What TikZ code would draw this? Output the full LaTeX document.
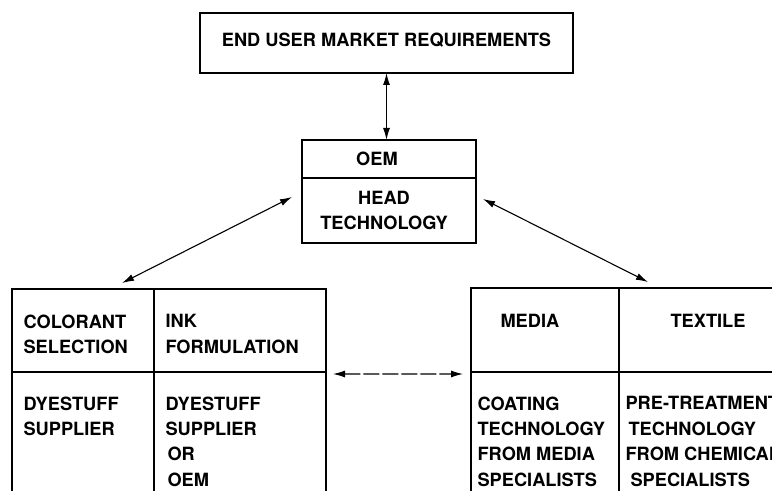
\documentclass[tikz,border=0pt]{standalone}
\usepackage{fontspec}
\setmainfont{TeX Gyre Heros}
\usetikzlibrary{positioning, arrows.meta}

\begin{document}
\begin{tikzpicture}[
    x=1bp, y=-1bp,
    >={Latex[length=12bp, width=7bp]},
    line width=1.1bp,
    font=\bfseries\fontsize{18.3}{25.5}\selectfont,
    cellbox/.style={
        draw,
        line width=2bp,
        inner sep=0pt,
        outer sep=0pt,
        anchor=north west
    },
    celltext/.style={
        align=left,
        inner sep=0pt,
        anchor=north west
    }
]
    \useasboundingbox (0,0) rectangle (772,491);

    \node[cellbox, minimum width=373bp, minimum height=60bp, text depth=6bp] (eur) at (200,13) {END USER MARKET REQUIREMENTS};
    \node[cellbox, minimum width=174bp, minimum height=38bp] (oem) at (302,140) {OEM\hspace*{24bp}};
    \node[cellbox, minimum width=174bp, minimum height=65bp, align=center, below=0pt of oem] (head) {HEAD\hspace*{10bp}\\TECHNOLOGY\hspace*{10bp}};

    \node[cellbox, minimum width=142bp, minimum height=83bp] (colsel) at (12,289) {};
    \node[cellbox, minimum width=172bp, minimum height=83bp, right=0pt of colsel] (ink) {};
    \node[cellbox, minimum width=142bp, minimum height=140bp, below=0pt of colsel] (dyesup) {};
    \node[cellbox, minimum width=172bp, minimum height=140bp, below=0pt of ink] (inksup) {};

    \node[cellbox, minimum width=148bp, minimum height=84bp] (media) at (471,288) {};
    \node[cellbox, minimum width=180bp, minimum height=84bp, right=0pt of media] (textile) {};
    \node[cellbox, minimum width=148bp, minimum height=140bp, below=0pt of media] (coating) {};
    \node[cellbox, minimum width=180bp, minimum height=140bp, below=0pt of textile] (pretreat) {};

    \node[celltext] (colseltxt) at ([shift={(11,25)}]colsel.north west) {COLORANT\\SELECTION};
    \node[celltext] (inktxt) at ([shift={(11,25)}]ink.north west) {INK\\FORMULATION};
    \node[celltext] (dyesuptxt) at ([shift={(11,24)}]dyesup.north west) {DYESTUFF\\SUPPLIER};
    \node[celltext] (inksuptxt) at ([shift={(11,24)}]inksup.north west) {DYESTUFF\\SUPPLIER\\\hspace*{2bp}OR\\\hspace*{2bp}OEM};
    \node[celltext] (mediatxt) at ([shift={(29,26)}]media.north west) {MEDIA};
    \node[celltext] (textiletxt) at ([shift={(51,26)}]textile.north west) {TEXTILE};
    \node[celltext] (coatingtxt) at ([shift={(6,24)}]coating.north west) {COATING\\TECHNOLOGY\\FROM MEDIA\\SPECIALISTS};
    \node[celltext] (pretreattxt) at ([shift={(6,24)}]pretreat.north west) {PRE-TREATMENT\\\hspace*{3bp}TECHNOLOGY\\FROM CHEMICAL\\\hspace*{5bp}SPECIALISTS};

    \draw[<->] (eur.south) -- (eur.south |- oem.north);
    \draw[<->] ([shift={(-32,-6)}]colsel.north east) -- ([shift={(-10,-13.5)}]head.west);
    \draw[<->] ([shift={(7,-11.5)}]head.east) -- ([shift={(29,-6)}]textile.north west);
    \draw[<->, dash pattern=on 16bp off 3bp] ([shift={(7,2)}]ink.south east) -- ([shift={(-8,2)}]media.south west);
\end{tikzpicture}
\end{document}
